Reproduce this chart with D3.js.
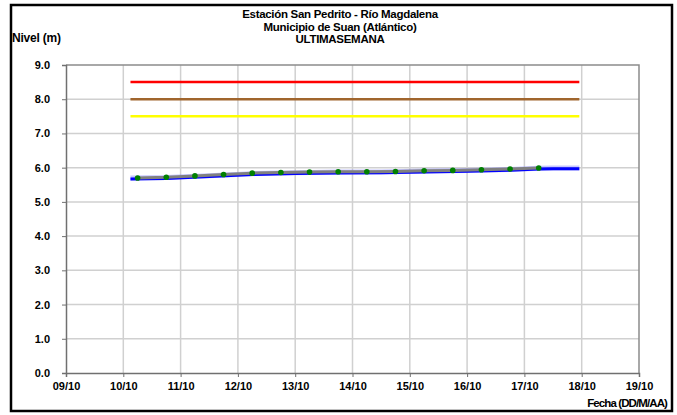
<!DOCTYPE html>
<html>
<head>
<meta charset="utf-8">
<script src="https://cdn.jsdelivr.net/npm/d3@7"></script>
<style>
  body { margin: 0; background: #fff; }
  text { font-family: "Liberation Sans", Arial, sans-serif; font-weight: bold; fill: #000; }
</style>
</head>
<body>
<div id="chart"></div>
<script>
var titleLines = ["Estación San Pedrito - Río Magdalena", "Municipio de Suan (Atlántico)", "ULTIMASEMANA"];
var yLabel = "Nivel (m)";
var xLabel = "Fecha (DD/M/AA)";

// lecturas de mira (puntos verdes), 06:00 y 18:00
var miraTimes = ["2012-10-10T06:00", "2012-10-10T18:00", "2012-10-11T06:00", "2012-10-11T18:00",
                 "2012-10-12T06:00", "2012-10-12T18:00", "2012-10-13T06:00", "2012-10-13T18:00",
                 "2012-10-14T06:00", "2012-10-14T18:00", "2012-10-15T06:00", "2012-10-15T18:00",
                 "2012-10-16T06:00", "2012-10-16T18:00", "2012-10-17T06:00"];
var miraValues = [5.70, 5.72, 5.76, 5.80, 5.84, 5.86, 5.87, 5.88, 5.88, 5.89, 5.91, 5.92, 5.94, 5.96, 5.99];

// sensor automatico (linea azul)
var sensorTimes = ["2012-10-10T03:00", "2012-10-10T18:00", "2012-10-11T12:00", "2012-10-12T06:00",
                   "2012-10-13T00:00", "2012-10-13T18:00", "2012-10-14T12:00", "2012-10-15T06:00",
                   "2012-10-16T00:00", "2012-10-16T18:00", "2012-10-17T06:00", "2012-10-17T12:00",
                   "2012-10-17T23:00"];
var sensorValues = [5.695, 5.71, 5.765, 5.825, 5.85, 5.87, 5.875, 5.90, 5.92, 5.95, 5.985, 5.99, 5.99];

// niveles de alerta
var alertLevels = [8.5, 8.0, 7.5];
var alertColors = ["#ff0000", "#a0652d", "#ffff00"];
var alertStart = "2012-10-10T03:00";
var alertEnd = "2012-10-17T23:00";

var yTicks = [0, 1, 2, 3, 4, 5, 6, 7, 8, 9];
var xStart = "2012-10-09T00:00", xEnd = "2012-10-19T00:00";

var width = 677, height = 415;
var margin = {top: 65, right: 38, bottom: 42, left: 66};

var svg = d3.select("#chart").append("svg")
    .attr("width", width)
    .attr("height", height);

var x = d3.scaleTime()
    .domain([new Date(xStart), new Date(xEnd)])
    .range([margin.left, width - margin.right]);

var y = d3.scaleLinear()
    .domain([0, 9])
    .range([height - margin.bottom, margin.top]);

// grid
var days = d3.timeDay.range(new Date(xStart), d3.timeDay.offset(new Date(xEnd), 1));
svg.append("g")
    .selectAll("line.v")
    .data(days.slice(1, -1))
    .join("line")
    .attr("x1", d => x(d)).attr("x2", d => x(d))
    .attr("y1", y(0)).attr("y2", y(9))
    .attr("stroke", "#d0d0d0").attr("stroke-width", 1.5);

svg.append("g")
    .selectAll("line.h")
    .data(yTicks.slice(1, -1))
    .join("line")
    .attr("x1", x.range()[0]).attr("x2", x.range()[1])
    .attr("y1", d => y(d)).attr("y2", d => y(d))
    .attr("stroke", "#d0d0d0").attr("stroke-width", 1.5);

// plot border top/right
svg.append("path")
    .attr("d", "M" + x.range()[0] + "," + y(9) + "H" + x.range()[1] + "V" + y(0))
    .attr("fill", "none").attr("stroke", "#8c8c8c").attr("stroke-width", 1.5);

// axes
var yAxis = d3.axisLeft(y).tickValues(yTicks).tickSize(4).tickFormat(d3.format(".1f"));
var gy = svg.append("g")
    .attr("transform", "translate(" + margin.left + ",0)")
    .call(yAxis);
gy.select(".domain").attr("stroke", "#707070").attr("stroke-width", 1.5);
gy.selectAll(".tick line").attr("stroke", "#707070");
gy.selectAll("text").attr("font-size", 11).attr("x", -16)
    .style("font-family", "Liberation Sans, Arial, sans-serif").style("font-weight", "bold");

var xAxis = d3.axisBottom(x).tickValues(days).tickSize(4).tickFormat(d3.timeFormat("%d/%m"));
var gx = svg.append("g")
    .attr("transform", "translate(0," + y(0) + ")")
    .call(xAxis);
gx.select(".domain").attr("stroke", "#707070").attr("stroke-width", 1.5);
gx.selectAll(".tick line").attr("stroke", "#707070");
gx.selectAll("text").attr("font-size", 11).attr("y", 9)
    .style("font-family", "Liberation Sans, Arial, sans-serif").style("font-weight", "bold");

// alert lines
svg.append("g")
    .selectAll("line")
    .data(alertLevels)
    .join("line")
    .attr("x1", x(new Date(alertStart))).attr("x2", x(new Date(alertEnd)))
    .attr("y1", d => y(d)).attr("y2", d => y(d))
    .attr("stroke", (d, i) => alertColors[i]).attr("stroke-width", 2.5);

var sensor = sensorTimes.map((t, i) => ({t: new Date(t), v: sensorValues[i]}));
var mira = miraTimes.map((t, i) => ({t: new Date(t), v: miraValues[i]}));

var line = d3.line().x(d => x(d.t)).y(d => y(d.v));

svg.append("path").datum(sensor)
    .attr("d", line).attr("fill", "none")
    .attr("stroke", "#8080ff").attr("stroke-opacity", 0.45).attr("stroke-width", 5);
svg.append("path").datum(sensor)
    .attr("d", line).attr("fill", "none")
    .attr("stroke", "#0000ff").attr("stroke-width", 3)
    .attr("transform", "translate(0,0.8)");

svg.append("path").datum(mira)
    .attr("d", line).attr("fill", "none")
    .attr("stroke", "#808080").attr("stroke-width", 3);

svg.append("g")
    .selectAll("circle")
    .data(mira)
    .join("circle")
    .attr("cx", d => x(d.t)).attr("cy", d => y(d.v))
    .attr("r", 2.8).attr("fill", "#008000");

// titles
svg.append("g")
    .selectAll("text")
    .data(titleLines)
    .join("text")
    .attr("x", 340).attr("y", (d, i) => 18 + i * 12.5)
    .attr("text-anchor", "middle").attr("font-size", 11.5)
    .attr("letter-spacing", -0.3)
    .text(d => d);

svg.append("text").attr("x", 12).attr("y", 42).attr("font-size", 12)
    .attr("letter-spacing", -0.2).text(yLabel);
svg.append("text").attr("x", 667).attr("y", 407).attr("text-anchor", "end").attr("font-size", 11.5)
    .attr("letter-spacing", -0.9).text(xLabel);

// outer frame
svg.append("rect")
    .attr("x", 11).attr("y", 5).attr("width", 661).attr("height", 406)
    .attr("fill", "none").attr("stroke", "#000").attr("stroke-width", 2.5);
</script>
</body>
</html>
